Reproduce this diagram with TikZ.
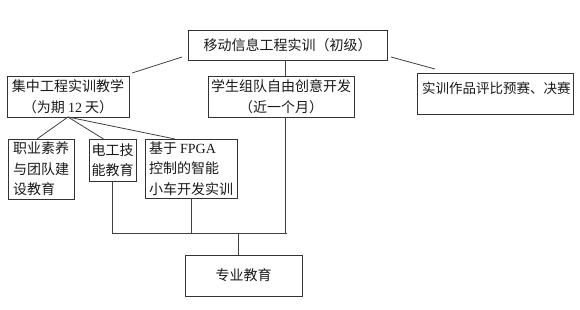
\documentclass[tikz,border=0pt]{standalone}
\usepackage{fontspec}
\newfontfamily\cjk{Noto Sans CJK SC}
\newfontfamily\lat{Liberation Serif}
\begin{document}
\begin{tikzpicture}[x=1pt,y=-1pt,
  box/.style={draw=black!80, line width=0.8pt, rectangle, inner sep=0pt, outer sep=0pt, align=center,
    font=\cjk\fontsize{14}{20.5}\selectfont, text=black!90},
  lbox/.style={box, align=left},
  txt/.style={inner sep=0pt, font=\cjk\fontsize{13.5}{20.5}\selectfont, text=black!90},
  conn/.style={draw=black!75, line width=0.8pt}]
\useasboundingbox (0,0) rectangle (580,310);
\node[box, minimum width=199pt, minimum height=30pt] (top) at (287.5,45) {移动信息工程实训（初级）};
\node[box, minimum width=122pt, minimum height=41pt] (L) at (68,96.5) {集中工程实训教学\\（为期 {\lat 12} 天）};
\node[box, minimum width=146pt, minimum height=41pt] (M) at (281,96.5) {学生组队自由创意开发\\（近一个月）};
\node[box, minimum width=156pt, minimum height=41pt] (R) at (495,93.5) {};
\node[txt, anchor=west] (Rt) at ([xshift=5pt,yshift=-15pt]R.north west) {实训作品评比预赛、决赛};
\node[lbox, minimum width=66pt, minimum height=60pt] (A) at (41,169) {职业素养\\与团队建\\设教育};
\node[lbox, minimum width=47pt, minimum height=42pt] (B) at (112.5,160) {电工技\\能教育};
\node[lbox, minimum width=92pt, minimum height=59pt] (C) at (191,168.5) {基于 {\lat FPGA}\\控制的智能\\小车开发实训};
\node[box, minimum width=117pt, minimum height=41pt] (bot) at (243.5,275.5) {专业教育};
\coordinate (busR) at (287,233);
% top level connectors
\draw[conn] ([xshift=3pt,yshift=3pt]L.north east) -- ([xshift=-6pt,yshift=3pt]top.south west);
\draw[conn] ([xshift=4pt,yshift=3pt]top.south east) -- ([xshift=18pt,yshift=4pt]R.north west);
\draw[conn] ([xshift=-2pt]top.south) -- ([xshift=-2pt]top.south |- M.north);
% fan out
\draw[conn] (L.south) -- ([xshift=-4pt]A.north);
\draw[conn] (L.south) -- ([xshift=-9pt]B.north);
\draw[conn] (L.south) -- ([xshift=-16pt]C.north);
% bus
\draw[conn] (B.south) |- (busR);
\draw[conn] (C.south) -- (C.south |- busR);
\draw[conn] ([xshift=4pt]M.south) -- ([xshift=4pt]M.south |- busR);
\draw[conn] ([xshift=-5.5pt]bot.north) -- ([xshift=-5.5pt]bot.north |- busR);
\end{tikzpicture}
\end{document}
